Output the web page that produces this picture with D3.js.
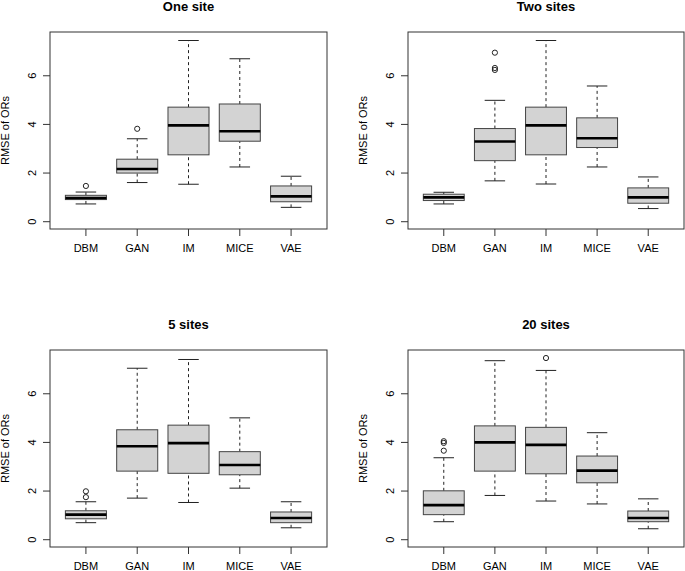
<!DOCTYPE html>
<html>
<head>
<meta charset="utf-8">
<script src="https://cdn.jsdelivr.net/npm/d3@7"></script>
<style>
  body { margin: 0; background: #fff; }
  text { font-family: "Liberation Sans", Arial, sans-serif; fill: #000; }
</style>
</head>
<body>
<svg></svg>
<script>
const size = {w: 685, h: 571};
const methods = ['DBM', 'GAN', 'IM', 'MICE', 'VAE'];
const yTicks = [0, 2, 4, 6];

// five-number summaries per method: [lower whisker, Q1, median, Q3, upper whisker]
const oneSite = [
    [0.73, 0.91, 0.975, 1.085, 1.22],
    [1.61, 2.00, 2.17, 2.57, 3.41],
    [1.54, 2.75, 3.96, 4.71, 7.45],
    [2.25, 3.31, 3.72, 4.84, 6.70],
    [0.59, 0.82, 1.04, 1.47, 1.87]
];
const oneSiteOut = [[1.47], [3.82], [], [], []];

const twoSites = [
    [0.73, 0.87, 1.00, 1.13, 1.21],
    [1.68, 2.51, 3.30, 3.83, 4.99],
    [1.55, 2.75, 3.96, 4.71, 7.45],
    [2.25, 3.05, 3.43, 4.27, 5.58],
    [0.54, 0.76, 1.00, 1.39, 1.84]
];
const twoSitesOut = [[], [6.95, 6.32, 6.24], [], [], []];

const fiveSites = [
    [0.70, 0.86, 1.03, 1.19, 1.56],
    [1.71, 2.82, 3.84, 4.52, 7.05],
    [1.53, 2.73, 3.97, 4.71, 7.41],
    [2.12, 2.67, 3.07, 3.62, 5.01],
    [0.49, 0.70, 0.89, 1.14, 1.56]
];
const fiveSitesOut = [[1.75, 1.99], [], [], [], []];

const twentySites = [
    [0.74, 1.03, 1.42, 2.01, 3.37],
    [1.82, 2.82, 4.00, 4.68, 7.36],
    [1.59, 2.71, 3.90, 4.62, 6.96],
    [1.47, 2.34, 2.84, 3.44, 4.40],
    [0.45, 0.74, 0.89, 1.18, 1.68]
];
const twentySitesOut = [[3.66, 3.98, 4.05], [], [7.47], [], []];

const panels = [
    {title: 'One site', stats: oneSite, out: oneSiteOut, x0: 50, x1: 327, y0: 32, y1: 229},
    {title: 'Two sites', stats: twoSites, out: twoSitesOut, x0: 408, x1: 684, y0: 32, y1: 229},
    {title: '5 sites', stats: fiveSites, out: fiveSitesOut, x0: 50, x1: 327, y0: 350, y1: 547},
    {title: '20 sites', stats: twentySites, out: twentySitesOut, x0: 408, x1: 684, y0: 350, y1: 547}
];

const svg = d3.select('svg')
    .attr('width', size.w)
    .attr('height', size.h);

panels.forEach(p => drawPanel(p));

function drawPanel (p) {
    // R-style limits: 0..7.5 padded by 4%
    let y = d3.scaleLinear().domain([-0.3, 7.8]).range([p.y1, p.y0]);
    let x = d3.scaleLinear().domain([0.3, 5.7]).range([p.x0, p.x1]);
    let g = svg.append('g');
    // box width 0.8 of category spacing, staples half of that
    let bw = (x(1.8) - x(1)),
        cw = bw / 2;

    g.append('text')
        .attr('x', (p.x0 + p.x1) / 2)
        .attr('y', p.y0 - 21)
        .attr('text-anchor', 'middle')
        .style('font-size', '13px')
        .style('font-weight', 'bold')
        .text(p.title);

    p.stats.forEach((s, i) => {
        let cx = x(i + 1);
        let b = g.append('g');
        // whiskers
        b.selectAll('line.wh')
            .data([[s[0], s[1]], [s[3], s[4]]])
            .enter().append('line')
            .attr('x1', cx).attr('x2', cx)
            .attr('y1', d => y(d[0])).attr('y2', d => y(d[1]))
            .attr('stroke', '#222')
            .attr('stroke-dasharray', '3,3');
        // staples
        b.selectAll('line.st')
            .data([s[0], s[4]])
            .enter().append('line')
            .attr('x1', cx - cw / 2).attr('x2', cx + cw / 2)
            .attr('y1', d => y(d)).attr('y2', d => y(d))
            .attr('stroke', '#222');
        b.append('rect')
            .attr('x', cx - bw / 2)
            .attr('width', bw)
            .attr('y', y(s[3]))
            .attr('height', y(s[1]) - y(s[3]))
            .attr('fill', '#d3d3d3')
            .attr('stroke', '#444');
        b.append('line')
            .attr('x1', cx - bw / 2).attr('x2', cx + bw / 2)
            .attr('y1', y(s[2])).attr('y2', y(s[2]))
            .attr('stroke', '#000')
            .attr('stroke-width', 2.6);
        b.selectAll('circle')
            .data(p.out[i])
            .enter().append('circle')
            .attr('cx', cx)
            .attr('cy', d => y(d))
            .attr('r', 2.6)
            .attr('fill', 'none')
            .attr('stroke', '#222');
    });

    // frame
    g.append('rect')
        .attr('x', p.x0).attr('y', p.y0)
        .attr('width', p.x1 - p.x0).attr('height', p.y1 - p.y0)
        .attr('fill', 'none')
        .attr('stroke', '#333');

    // y axis
    g.selectAll('line.yt')
        .data(yTicks)
        .enter().append('line')
        .attr('x1', p.x0 - 7).attr('x2', p.x0)
        .attr('y1', d => y(d)).attr('y2', d => y(d))
        .attr('stroke', '#333');
    g.selectAll('text.yl')
        .data(yTicks)
        .enter().append('text')
        .attr('transform', d => 'translate(' + (p.x0 - 14.5) + ',' + y(d) + ') rotate(-90)')
        .attr('text-anchor', 'middle')
        .style('font-size', '11px')
        .text(d => d);
    g.append('text')
        .attr('transform', 'translate(' + (p.x0 - 41) + ',' + ((p.y0 + p.y1) / 2) + ') rotate(-90)')
        .attr('text-anchor', 'middle')
        .style('font-size', '11px')
        .text('RMSE of ORs');

    // x axis
    g.selectAll('line.xt')
        .data(methods)
        .enter().append('line')
        .attr('x1', (d, i) => x(i + 1)).attr('x2', (d, i) => x(i + 1))
        .attr('y1', p.y1).attr('y2', p.y1 + 7)
        .attr('stroke', '#333');
    g.selectAll('text.xl')
        .data(methods)
        .enter().append('text')
        .attr('x', (d, i) => x(i + 1))
        .attr('y', p.y1 + 23)
        .attr('text-anchor', 'middle')
        .style('font-size', '11px')
        .text(d => d);
}
</script>
</body>
</html>
